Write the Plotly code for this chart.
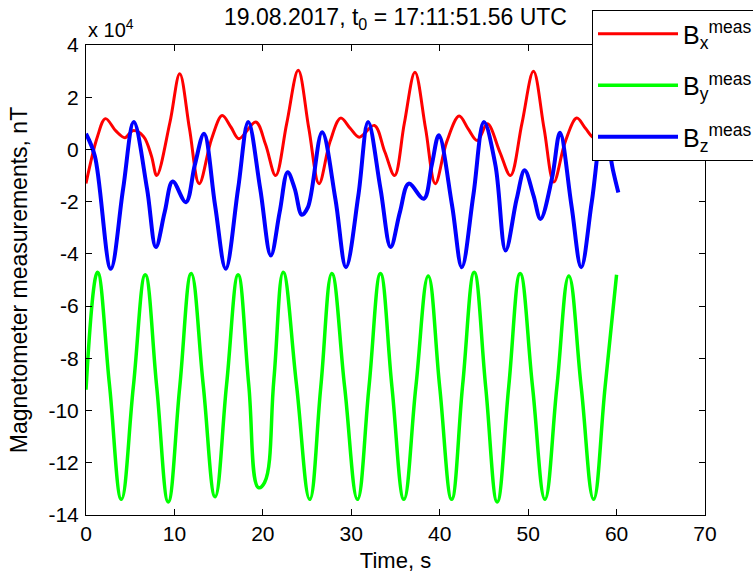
import plotly.graph_objects as go

# Values in units of 10^4 nT, time in seconds
t_x = [0, 1.3, 2.2, 3.4, 4.4, 5.3, 6.5, 7.4, 8.0, 9.5, 10.6, 11.7, 12.8, 14.2, 15.4, 16.4, 17.3,
       19.2, 20.3, 21.45, 22.7, 24.0, 25.2, 26.35, 27.6, 28.8, 29.9, 30.9, 32.6, 33.8, 34.9,
       36.0, 37.2, 38.4, 39.5, 40.8, 42.2, 43.2, 44.25, 45.4, 46.8, 48.0, 49.3, 50.6, 51.8,
       52.9, 54.2, 55.5, 56.5, 57.5, 59.1, 60.4]
b_x = [-1.3, 0.5, 1.18, 0.7, 0.45, 0.72, 0.5, -0.25, -1.0, 1.05, 2.9, 0.8, -1.31, 0.4, 1.3, 0.85, 0.41,
       1.05, 0.2, -1.0, 1.0, 3.03, 0.8, -1.31, 0.3, 1.2, 0.8, 0.47, 0.92, -0.1, -1.0,
       1.0, 2.96, 0.8, -1.31, 0.3, 1.28, 0.8, 0.34, 0.98, -0.1, -1.0, 1.0, 2.99, 0.8,
       -1.25, 0.3, 1.2, 0.8, 0.45, 1.0, 0.4]

t_y = [0, 1.3, 2.65, 4.0, 5.35, 6.7, 8.0, 9.3, 10.6, 11.9, 13.25, 14.6, 15.9, 17.2, 18.4, 19.5,
       20.2, 21.25, 22.3, 23.8, 25.3, 26.55, 27.8, 29.25, 30.7, 32.0, 33.3, 34.6, 35.95, 37.3,
       38.7, 40.0, 41.35, 42.6, 43.9, 45.2, 46.5, 47.8, 49.1, 50.5, 51.9, 53.25, 54.6, 56.0,
       57.4, 58.7, 60.0]
b_y = [-9.2, -4.7, -9.0, -13.4, -9.1, -4.8, -9.1, -13.5, -9.1, -4.75, -9.0, -13.3, -9.0, -4.8, -9.0, -12.95,
       -12.75, -8.8, -4.7, -9.0, -13.4, -9.1, -4.75, -9.1, -13.4, -9.1, -4.75, -9.1, -13.4, -9.1,
       -4.85, -9.1, -13.4, -9.0, -4.7, -9.1, -13.5, -9.1, -4.75, -9.1, -13.4, -9.1, -4.85, -9.1,
       -13.4, -9.1, -4.8]

t_z = [0, 1.0, 2.8, 4.2, 5.4, 6.9, 7.9, 8.9, 9.8, 11.3, 12.3, 13.35, 14.6, 15.8, 17.2, 18.35,
       19.7, 20.9, 21.9, 22.8, 23.6, 24.4, 25.1, 26.7, 28.2, 29.4, 30.8, 31.9, 33.3, 34.45,
       35.5, 36.5, 38.2, 39.1, 39.9, 41.4, 42.5, 43.8, 45.0, 46.3, 47.45, 48.7, 49.6, 50.6,
       51.4, 52.7, 53.6, 54.9, 56.0, 57.2, 58.5, 59.6, 60.2]
b_z = [0.6, -0.25, -4.57, -1.5, 1.05, -1.5, -3.74, -2.4, -1.23, -2.02, -0.6, 0.6, -2.15, -4.57, -1.5, 1.05,
       -1.5, -4.06, -2.4, -0.87, -1.5, -2.5, -2.21, 0.66, -1.89, -4.51, -1.76, 1.05, -1.5, -3.74,
       -2.4, -1.31, -1.89, -0.6, 0.54, -2.15, -4.51, -1.76, 1.05, -0.6, -3.87, -1.9, -0.8, -1.76,
       -2.66, -1.1, 0.64, -2.15, -4.51, -2.0, 1.0, -0.8, -1.65]

y_ticks = [-14, -12, -10, -8, -6, -4, -2, 0, 2, 4]
x_ticks = [0, 10, 20, 30, 40, 50, 60, 70]

FONT = "Liberation Sans, Arial, sans-serif"

fig = go.Figure()
series = [
    (t_x, b_x, "#ff0000", "B<sub>x</sub><sup>meas</sup>", 3, 1.0),
    (t_y, b_y, "#00ff00", "B<sub>y</sub><sup>meas</sup>", 3.5, 1.2),
    (t_z, b_z, "#0000ff", "B<sub>z</sub><sup>meas</sup>", 4, 1.0),
]
for i, (tt, vv, col, name, w, sm) in enumerate(series):
    fig.add_trace(go.Scatter(x=tt, y=vv, mode="lines", name=name, legendgroup=str(i),
                             line=dict(color=col, width=w, shape="spline", smoothing=sm)))

axis_common = dict(showline=True, linecolor="black", linewidth=1, mirror="ticks",
                   ticks="inside", ticklen=6, tickcolor="black", showgrid=False,
                   zeroline=False, tickfont=dict(family=FONT, size=21, color="black"))

fig.update_layout(
    width=753, height=579,
    margin=dict(l=86, r=48, t=45, b=64, autoexpand=False),
    paper_bgcolor="white", plot_bgcolor="white",
    font=dict(family=FONT, color="black"),
    title=dict(text="19.08.2017, t<sub>0</sub> = 17:11:51.56 UTC", x=0.5, xref="paper",
               y=1 - 17 / 579, yref="container", yanchor="middle", xanchor="center",
               font=dict(family=FONT, size=23, color="black")),
    xaxis=dict(range=[0, 70], tickvals=x_ticks, ticktext=[str(v) for v in x_ticks],
               title=dict(text="Time, s", font=dict(family=FONT, size=22), standoff=8),
               **axis_common),
    yaxis=dict(range=[-14, 4], tickvals=y_ticks, ticktext=[str(v) for v in y_ticks],
               ticklabelstandoff=2,
               title=dict(text="Magnetometer measurements, nT", font=dict(family=FONT, size=23),
                          standoff=14),
               **axis_common),
    legend=dict(x=(592 - 86) / 619, y=(515 - 10) / 470, xanchor="left", yanchor="top",
                bgcolor="white", bordercolor="black", borderwidth=1,
                font=dict(family=FONT, size=25, color="black"),
                tracegroupgap=16, itemwidth=80),
    showlegend=True,
)
fig.add_annotation(text="x 10<sup>4</sup>", xref="paper", yref="paper", x=0, y=1,
                   xanchor="left", yanchor="bottom", yshift=2, showarrow=False,
                   font=dict(family=FONT, size=20, color="black"))

fig.write_html("out.html")
